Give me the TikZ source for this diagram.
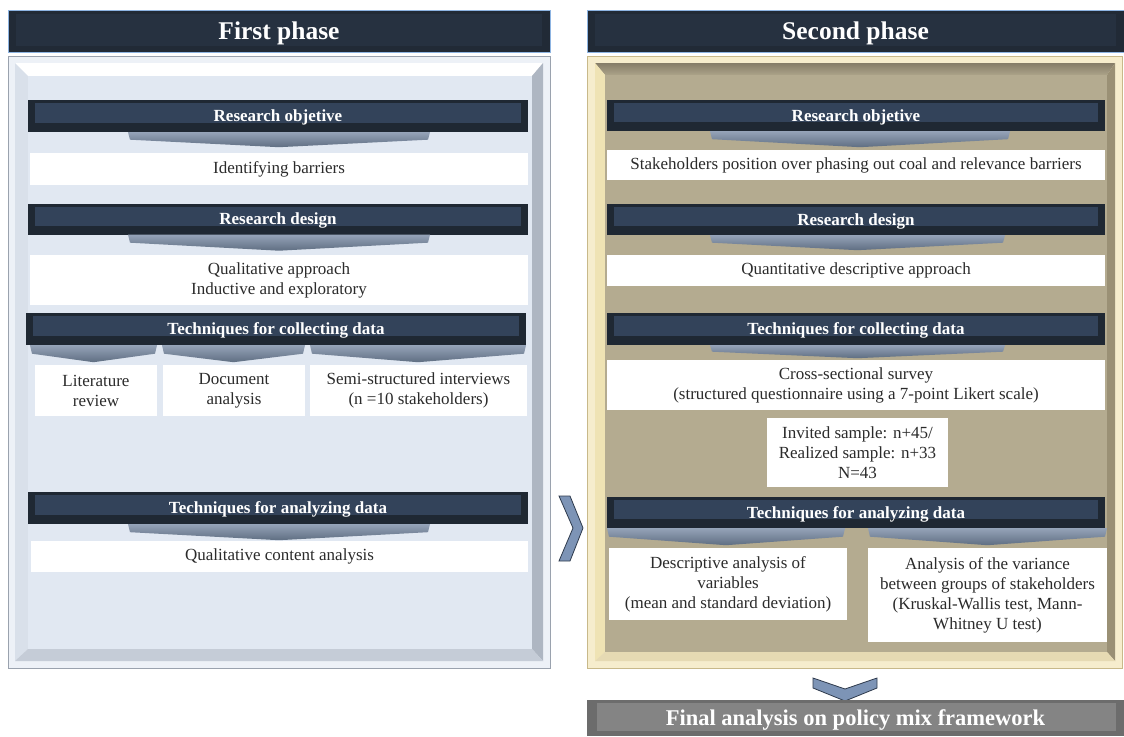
\documentclass[tikz,border=0pt]{standalone}
\usepackage{fontspec}
\setmainfont{Liberation Serif}
\usetikzlibrary{positioning,calc}

\definecolor{ttldark}{HTML}{212A36}
\definecolor{ttlmid}{HTML}{263140}
\definecolor{ttlblue}{HTML}{8DB4E2}
\definecolor{navydark}{HTML}{1F2833}
\definecolor{navymid}{HTML}{33435A}
\definecolor{ribtop}{HTML}{95A3B8}
\definecolor{ribbot}{HTML}{5F6E82}
\definecolor{lband}{HTML}{EDF1F7}
\definecolor{lline}{HTML}{9AA2AE}
\definecolor{lside}{HTML}{D9E0EA}
\definecolor{lshade}{HTML}{AEB6C2}
\definecolor{lbottom}{HTML}{C5CCD7}
\definecolor{lpanel}{HTML}{E1E8F2}
\definecolor{rband}{HTML}{F6EDCD}
\definecolor{rline}{HTML}{C8B98A}
\definecolor{rtopa}{HTML}{857D68}
\definecolor{rtopb}{HTML}{ACA389}
\definecolor{rside}{HTML}{EFE3B4}
\definecolor{rshade}{HTML}{9A9075}
\definecolor{rbottom}{HTML}{E6DAB3}
\definecolor{rpanel}{HTML}{B4AB90}
\definecolor{chevfill}{HTML}{7D94B6}
\definecolor{chevdark}{HTML}{2E3A4C}
\definecolor{fingray}{HTML}{6C6C6C}
\definecolor{finmid}{HTML}{848484}
\definecolor{txtgray}{HTML}{2B2B2B}

\newcommand\bodyfont{\fontsize{17}{20}\selectfont}
\newcommand\hdrfont{\fontsize{17}{19}\selectfont\bfseries}
\newcommand\ttlfont{\fontsize{25.5}{28}\selectfont\bfseries}
\newcommand\finfont{\fontsize{22.5}{26}\selectfont\bfseries}

% ribbon under a header: node, left x, right x, depth
\newcommand\ribbon[4]{%
  \coordinate (rl) at (#2,0 |- #1.south);
  \coordinate (rr) at (#3,0 |- #1.south);
  \shade[ribbonfill] (rl) -- (rr) -- ($(rr)+(-2pt,-0.5*#4pt)$)
    -- ($(rl)!0.5!(rr)+(0pt,-#4pt)$) -- ($(rl)+(2pt,-0.5*#4pt)$) -- cycle;}

\begin{document}
\begin{tikzpicture}[x=1pt,y=-1pt,
    ttl/.style={fill=ttldark, draw=ttlblue, line width=1pt, text=white, font=\ttlfont,
      minimum height=42pt, inner sep=0pt, text depth=0pt,
      path picture={\fill[ttlmid] ([shift={(8pt,-4pt)}]path picture bounding box.north west)
        rectangle ([shift={(-8pt,6pt)}]path picture bounding box.south east);}},
    hdr/.style={fill=navydark, text=white, font=\hdrfont, minimum width=500pt,
      minimum height=32pt, inner sep=0pt, text depth=0pt,
      path picture={\fill[navymid] ([shift={(7pt,-3pt)}]path picture bounding box.north west)
        rectangle ([shift={(-7pt,9pt)}]path picture bounding box.south east);}},
    txtbox/.style={fill=white, text=txtgray, font=\bodyfont, align=center, inner sep=2pt},
    ribbonfill/.style={top color=ribtop, bottom color=ribbot},
    chev/.style={fill=chevfill, draw=chevdark, line width=0.8pt},
    fin/.style={fill=fingray, text=white, font=\finfont, inner sep=0pt, text depth=0pt,
      path picture={\fill[finmid] ([shift={(10pt,-3pt)}]path picture bounding box.north west)
        rectangle ([shift={(-8pt,5pt)}]path picture bounding box.south east);}}]
\useasboundingbox (0,0) rectangle (1124,736);

% first phase frame
\filldraw[fill=lband, draw=lline] (8,56) rectangle (550,668);
\fill[white] (15,63) -- (543,63) -- (532,76) -- (28,76) -- cycle;
\fill[lside] (15,63) -- (28,76) -- (28,649) -- (15,661) -- cycle;
\fill[lshade] (543,63) -- (543,661) -- (532,649) -- (532,76) -- cycle;
\fill[lbottom] (15,661) -- (543,661) -- (532,649) -- (28,649) -- cycle;
\fill[lpanel] (28,76) rectangle (532,649);

% second phase frame
\filldraw[fill=rband, draw=rline] (587,56) rectangle (1122,668);
\shade[top color=rtopa, bottom color=rtopb] (595,63) -- (1115,63) -- (1107,75) -- (605,75) -- cycle;
\fill[rside] (595,63) -- (605,75) -- (605,652) -- (595,661) -- cycle;
\fill[rshade] (1115,63) -- (1115,661) -- (1107,652) -- (1107,75) -- cycle;
\fill[rbottom] (595,661) -- (1115,661) -- (1107,652) -- (605,652) -- cycle;
\fill[rpanel] (605,75) rectangle (1107,652);

% titles
\node[ttl, minimum width=542pt] (ttlL) at (279,31) {First phase};
\node[ttl, minimum width=537pt] (ttlR) at (855.5,31) {Second phase};

% first phase
\node[hdr] (lobjh) at (278,116) {Research objetive};
\ribbon{lobjh}{128}{430}{15}
\node[txtbox, minimum width=498pt, minimum height=32pt] (lobj) at (279,169) {Identifying barriers};
\node[hdr, minimum height=31pt] (ldesh) at (278,219) {Research design};
\ribbon{ldesh}{128}{430}{16}
\node[txtbox, minimum width=498pt, minimum height=50pt] (ldes) at (279,280) {Qualitative approach\\Inductive and exploratory};
\node[hdr] (lcolh) at (276,329) {Techniques for collecting data};
\foreach \xa/\xb in {30/157,162/305,310/526} {\ribbon{lcolh}{\xa}{\xb}{17}}
\node[txtbox, minimum width=122pt, minimum height=51pt] (llit) at (96,390.5) {Literature\\review};
\node[txtbox, minimum width=142pt, minimum height=51pt] (ldoc) at (234,390.5) {Document\\analysis};
\node[txtbox, minimum width=217pt, minimum height=51pt] (lint) at (418.5,390.5) {Semi-structured interviews\\(n =10 stakeholders)};
\node[hdr] (lanah) at (278,508) {Techniques for analyzing data};
\ribbon{lanah}{128}{430}{16}
\node[txtbox, minimum width=497pt, minimum height=31pt] (lana) at (279.5,556.5) {Qualitative content analysis};

% second phase
\node[hdr, minimum width=498pt, minimum height=31pt] (robjh) at (856,115.5) {Research objetive};
\ribbon{robjh}{710}{1010}{16}
\node[txtbox, minimum width=498pt, minimum height=30pt] (robj) at (856,165) {Stakeholders position over phasing out coal and relevance barriers};
\node[hdr, minimum width=498pt, minimum height=31pt] (rdesh) at (856,219.5) {Research design};
\ribbon{rdesh}{710}{1005}{15}
\node[txtbox, minimum width=498pt, minimum height=31pt] (rdes) at (856,270.5) {Quantitative descriptive approach};
\node[hdr, minimum width=498pt] (rcolh) at (856,329) {Techniques for collecting data};
\ribbon{rcolh}{710}{1005}{13}
\node[txtbox, minimum width=498pt, minimum height=50pt] (rcol) at (856,385) {Cross-sectional survey\\(structured questionnaire using a 7-point Likert scale)};
\node[txtbox, minimum width=181pt, minimum height=69pt] (rsamp) at (857.5,452.5) {Invited sample: n+45/\\Realized sample: n+33\\N=43};
\node[hdr, minimum width=498pt, minimum height=31pt] (ranah) at (856,512.5) {Techniques for analyzing data};
\ribbon{ranah}{607}{845}{17}
\ribbon{ranah}{868}{1107}{17}
\node[txtbox, minimum width=238pt, minimum height=72pt] (rdesc) at (728,584) {Descriptive analysis of\\variables\\(mean and standard deviation)};
\node[txtbox, minimum width=239pt, minimum height=94pt] (rvar) at (987.5,595) {Analysis of the variance\\between groups of stakeholders\\(Kruskal-Wallis test, Mann-\\Whitney U test)};

% chevrons and final analysis
\filldraw[chev] (559,496) -- (570,496) -- (583,528) -- (570,561) -- (559,561) -- (573,528) -- cycle;
\filldraw[chev] (813,678) -- (845,689) -- (877,678) -- (877,688) -- (845,701) -- (813,688) -- cycle;
\node[fin, minimum width=537pt, minimum height=36pt] (final) at (855.5,718) {Final analysis on policy mix framework};
\end{tikzpicture}
\end{document}
